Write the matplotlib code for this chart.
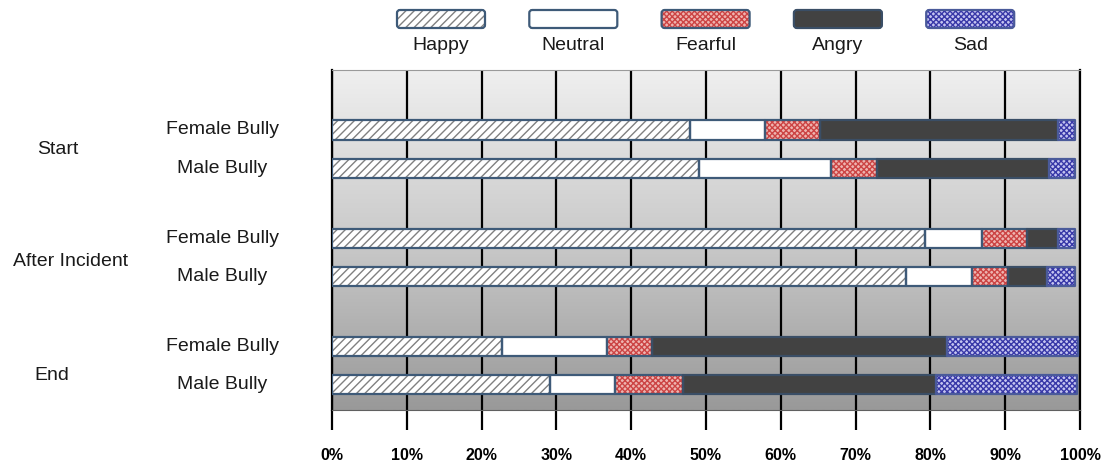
import matplotlib
matplotlib.use('Agg')
import matplotlib.pyplot as plt
import numpy as np
from matplotlib.colors import LinearSegmentedColormap
from matplotlib.patches import FancyBboxPatch

plt.rcParams['font.family'] = ['Liberation Sans', 'DejaVu Sans']
plt.rcParams['hatch.linewidth'] = 1.0

# ---------------- data ----------------
phases = ['Start', 'After Incident', 'End']
bullies = ['Female Bully', 'Male Bully']
emotions = ['Happy', 'Neutral', 'Fearful', 'Angry', 'Sad']
# rows: Start-Female, Start-Male, After-Female, After-Male, End-Female, End-Male (percent)
happy = [47.8, 49.0, 79.3, 76.8, 22.7, 29.1]
neutral = [10.1, 17.7, 7.6, 8.7, 14.1, 8.7]
fearful = [7.3, 6.2, 6.0, 4.9, 6.0, 9.1]
angry = [31.9, 22.9, 4.2, 5.2, 39.4, 33.9]
sad = [2.2, 3.5, 2.2, 3.7, 17.5, 18.8]
x_ticks = list(range(0, 101, 10))
x_ticklabels = [f'{t}%' for t in x_ticks]

series = [happy, neutral, fearful, angry, sad]

styles = {
    'Happy':   dict(face='white',   hatch='////',   hc='#808080', edge='#3e5a78'),
    'Neutral': dict(face='white',   hatch=None,     hc='#3e5a78', edge='#3e5a78'),
    'Fearful': dict(face='#eeb4b0', hatch='xxxxxx', hc='#cc4444', edge='#3e5a78'),
    'Angry':   dict(face='#424242', hatch=None,     hc='#424242', edge='#3a4e66'),
    'Sad':     dict(face='#c4c4f0', hatch='xxxxxx', hc='#3838a8', edge='#4a5a9a'),
}

W, H = 1108, 466
fig = plt.figure(figsize=(W / 100, H / 100), dpi=100)
fig.patch.set_facecolor('white')
ax = fig.add_axes([332 / W, 1 - 410 / H, 748 / W, 340 / H])

# layout positions
group_step = 2.83
ypos = []
for g in range(len(phases)):
    for b in range(len(bullies)):
        ypos.append(g * group_step + b)
ypos = np.array(ypos)
y_top, y_bot = -1.57, 7.33

# gradient background
cmap = LinearSegmentedColormap.from_list('bg', ['#efefef', '#cacaca', '#999999'])
grad = np.linspace(0, 1, 256).reshape(-1, 1)
ax.imshow(grad, extent=[0, 100, y_bot, y_top], aspect='auto', cmap=cmap,
          origin='upper', zorder=0, interpolation='bilinear')

left = np.zeros(len(ypos))
for name, vals in zip(emotions, series):
    st = styles[name]
    vals = np.array(vals)
    ax.barh(ypos, vals, left=left, height=0.5, color=st['face'],
            hatch=st['hatch'], edgecolor=st['hc'], linewidth=0, zorder=3)
    ax.barh(ypos, vals, left=left, height=0.5, fill=False,
            edgecolor=st['edge'], linewidth=1.6, zorder=4, joinstyle='round')
    left += vals

ax.set_xlim(0, 100)
ax.set_ylim(y_bot, y_top)
ax.set_xticks(x_ticks)
ax.set_xticklabels(x_ticklabels, fontweight='bold', fontsize=11.5)
ax.set_yticks([])
ax.set_axisbelow(True)
ax.grid(axis='x', color='black', linewidth=1.6)
ax.tick_params(axis='x', length=14.5, width=1.6, pad=13, color='black')
for s in ['left', 'right']:
    ax.spines[s].set_color('black')
    ax.spines[s].set_linewidth(1.6)
ax.spines['top'].set_color('#9a9a9a')
ax.spines['top'].set_linewidth(0.8)
ax.spines['bottom'].set_color('#606060')
ax.spines['bottom'].set_linewidth(0.8)

# sub-category labels
ytr = ax.get_yaxis_transform()
for i, y in enumerate(ypos):
    ax.text(-0.147, y, bullies[i % 2], transform=ytr, ha='center', va='center',
            fontsize=14, color='#1a1a1a', clip_on=False)

# overlay axes in pixel coords for group labels and legend
oax = fig.add_axes([0, 0, 1, 1])
oax.set_xlim(0, W)
oax.set_ylim(H, 0)
oax.axis('off')
oax.patch.set_alpha(0)

group_label_pos = [(58, 149), (71, 262), (52, 375)]
for name, (gx, gy) in zip(phases, group_label_pos):
    oax.text(gx, gy, name, ha='center', va='center', fontsize=14, color='#1a1a1a')

for i, name in enumerate(emotions):
    st = styles[name]
    x0 = 397 + i * 132.3
    oax.add_patch(FancyBboxPatch((x0, 10), 88, 18, boxstyle='round,pad=0,rounding_size=3',
                                 facecolor=st['face'], hatch=st['hatch'],
                                 edgecolor=st['hc'], linewidth=0))
    oax.add_patch(FancyBboxPatch((x0, 10), 88, 18, boxstyle='round,pad=0,rounding_size=3',
                                 fill=False, edgecolor=st['edge'], linewidth=1.6))
    oax.text(x0 + 44, 46, name, ha='center', va='center', fontsize=14, color='#1a1a1a')

fig.savefig('out.png', dpi=100)
